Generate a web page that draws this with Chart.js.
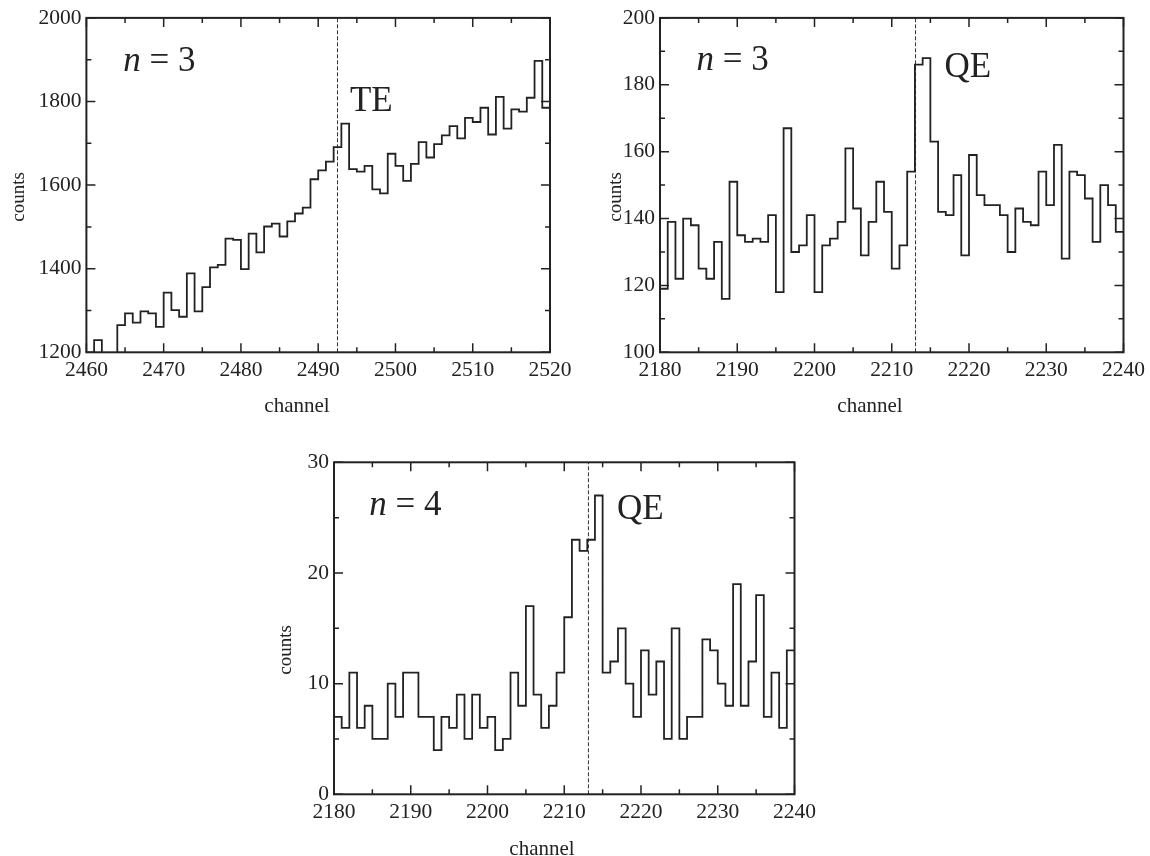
<!DOCTYPE html>
<html>
<head>
<meta charset="utf-8">
<script src="https://cdn.jsdelivr.net/npm/chart.js@4.4.1/dist/chart.umd.min.js"></script>
<style>
  html, body { margin: 0; padding: 0; background: #fff; }
  #wrap { position: relative; width: 1150px; height: 856px; }
  canvas { position: absolute; left: 0; top: 0; }
</style>
</head>
<body>
<div id="wrap">
  <canvas id="te3" width="1150" height="856"></canvas>
  <canvas id="qe3" width="1150" height="856"></canvas>
  <canvas id="qe4" width="1150" height="856"></canvas>
</div>
<script>
// counts per channel, one bin per channel, first bin starts at *_start
var te3_start = 2460;
var te3_counts = [
  1190, 1229, 1190, 1190, 1265, 1293, 1271, 1298, 1293, 1261,
  1343, 1301, 1285, 1389, 1298, 1356, 1403, 1409, 1472, 1469,
  1399, 1484, 1439, 1501, 1508, 1477, 1513, 1532, 1546, 1614,
  1635, 1656, 1691, 1747, 1638, 1632, 1646, 1590, 1580, 1675,
  1646, 1610, 1651, 1703, 1666, 1698, 1719, 1741, 1712, 1761,
  1751, 1785, 1721, 1811, 1735, 1781, 1776, 1809, 1897, 1785
];
var te3_edge = 2492.5;

var qe3_start = 2180;
var qe3_counts = [
  119, 139, 122, 140, 138, 125, 122, 133, 116, 151,
  135, 133, 134, 133, 141, 118, 167, 130, 132, 141,
  118, 132, 134, 139, 161, 143, 129, 139, 151, 142,
  125, 132, 154, 186, 188, 163, 142, 141, 153, 129,
  159, 147, 144, 144, 141, 130, 143, 139, 138, 154,
  144, 162, 128, 154, 153, 146, 133, 150, 144, 136
];
var qe3_edge = 2213.08;

var qe4_start = 2180;
var qe4_counts = [
  7, 6, 11, 6, 8, 5, 5, 10, 7, 11,
  11, 7, 7, 4, 7, 6, 9, 5, 9, 6,
  7, 4, 5, 11, 8, 17, 9, 6, 8, 11,
  16, 23, 22, 23, 27, 11, 12, 15, 10, 7,
  13, 9, 12, 5, 15, 5, 7, 7, 14, 13,
  10, 8, 19, 8, 12, 18, 7, 11, 6, 13
];
var qe4_edge = 2213.15;

var SERIF = '"Liberation Serif", "Times New Roman", serif';
var INK = '#222';

function plainNumber(v) { return String(v); }

function makePanel(id, p) {
  var pts = p.counts.map(function (v, i) { return { x: p.start + i, y: v }; });
  pts.push({ x: p.start + p.counts.length, y: p.counts[p.counts.length - 1] });

  // box, inward ticks (major + minor) on all four sides, labels
  var decor = {
    id: 'decor_' + id,
    afterDatasetsDraw: function (chart) {
      var c = chart.ctx, a = chart.chartArea;
      var xs = chart.scales.x, ys = chart.scales.y;
      c.save();
      c.strokeStyle = INK;
      c.lineWidth = 1.5;
      c.beginPath();
      for (var v = p.xMin; v <= p.xMax; v += p.xMinor) {
        var len = ((v - p.xMin) % p.xMajor === 0) ? 9 : 5;
        var px = xs.getPixelForValue(v);
        c.moveTo(px, a.bottom); c.lineTo(px, a.bottom - len);
        c.moveTo(px, a.top); c.lineTo(px, a.top + len);
      }
      for (var w = p.yMin; w <= p.yMax; w += p.yMinor) {
        var l2 = ((w - p.yMin) % p.yMajor === 0) ? 9 : 5;
        var py = ys.getPixelForValue(w);
        c.moveTo(a.left, py); c.lineTo(a.left + l2, py);
        c.moveTo(a.right, py); c.lineTo(a.right - l2, py);
      }
      c.stroke();
      c.lineWidth = 2;
      c.strokeRect(a.left, a.top, a.right - a.left, a.bottom - a.top);
      c.restore();
    },
    afterDraw: function (chart) {
      var c = chart.ctx;
      var xs = chart.scales.x, ys = chart.scales.y;
      c.save();
      c.fillStyle = INK;
      c.textBaseline = 'alphabetic';
      c.textAlign = 'left';
      var nx = xs.getPixelForValue(p.nAt[0]), ny = ys.getPixelForValue(p.nAt[1]);
      c.font = 'italic 35px ' + SERIF;
      c.fillText('n', nx, ny);
      nx += c.measureText('n').width;
      c.font = '35px ' + SERIF;
      c.fillText(' = ' + p.n, nx, ny);
      c.fillText(p.tag, xs.getPixelForValue(p.tagAt[0]), ys.getPixelForValue(p.tagAt[1]));

      c.textAlign = 'center';
      c.textBaseline = 'middle';
      c.font = '21px ' + SERIF;
      c.fillText('channel', p.xTitle[0], p.xTitle[1]);
      c.translate(p.yTitle[0], p.yTitle[1]);
      c.rotate(-Math.PI / 2);
      c.font = '19px ' + SERIF;
      c.fillText('counts', 0, 0);
      c.restore();
    }
  };

  return new Chart(document.getElementById(id).getContext('2d'), {
    type: 'line',
    data: {
      datasets: [{
        data: pts,
        stepped: 'before',
        borderColor: INK,
        borderWidth: 1.8,
        pointRadius: 0,
        fill: false
      }, {
        data: [{ x: p.edge, y: p.yMin }, { x: p.edge, y: p.yMax }],
        borderColor: '#333',
        borderWidth: 1,
        borderDash: [4, 2],
        pointRadius: 0,
        fill: false
      }]
    },
    options: {
      responsive: false,
      animation: false,
      events: [],
      layout: { padding: { left: 0, top: p.area[1], right: 1150 - p.area[2], bottom: 0 } },
      plugins: { legend: { display: false }, tooltip: { enabled: false } },
      scales: {
        x: {
          type: 'linear',
          min: p.xMin,
          max: p.xMax,
          afterFit: function (s) { s.height = 856 - p.area[3]; },
          ticks: {
            stepSize: p.xMajor, autoSkip: false, maxRotation: 0, padding: 5,
            color: INK, font: { family: SERIF, size: 21.5 }, callback: plainNumber
          },
          grid: { display: false, drawTicks: false },
          border: { display: false }
        },
        y: {
          type: 'linear',
          min: p.yMin,
          max: p.yMax,
          afterFit: function (s) { s.width = p.area[0]; },
          ticks: {
            stepSize: p.yMajor, padding: 5,
            color: INK, font: { family: SERIF, size: 21.5 }, callback: plainNumber
          },
          grid: { display: false, drawTicks: false },
          border: { display: false }
        }
      }
    },
    plugins: [decor]
  });
}

makePanel('te3', {
  start: te3_start, counts: te3_counts, edge: te3_edge,
  xMin: 2460, xMax: 2520, xMajor: 10, xMinor: 5,
  yMin: 1200, yMax: 2000, yMajor: 200, yMinor: 100,
  area: [86.4, 16.5, 550, 352.3],
  n: 3, nAt: [2464.78, 1874], tag: 'TE', tagAt: [2494.1, 1777],
  xTitle: [297, 406], yTitle: [19, 197]
});

makePanel('qe3', {
  start: qe3_start, counts: qe3_counts, edge: qe3_edge,
  xMin: 2180, xMax: 2240, xMajor: 10, xMinor: 5,
  yMin: 100, yMax: 200, yMajor: 20, yMinor: 10,
  area: [660, 16.5, 1124.3, 352.3],
  n: 3, nAt: [2184.74, 184.3], tag: 'QE', tagAt: [2216.83, 182.3],
  xTitle: [870, 406], yTitle: [616, 197]
});

makePanel('qe4', {
  start: qe4_start, counts: qe4_counts, edge: qe4_edge,
  xMin: 2180, xMax: 2240, xMajor: 10, xMinor: 5,
  yMin: 0, yMax: 30, yMajor: 10, yMinor: 5,
  area: [334, 462.3, 794.5, 794.3],
  n: 4, nAt: [2184.6, 25.24], tag: 'QE', tagAt: [2216.86, 24.85],
  xTitle: [542, 849], yTitle: [286, 650]
});
</script>
</body>
</html>
